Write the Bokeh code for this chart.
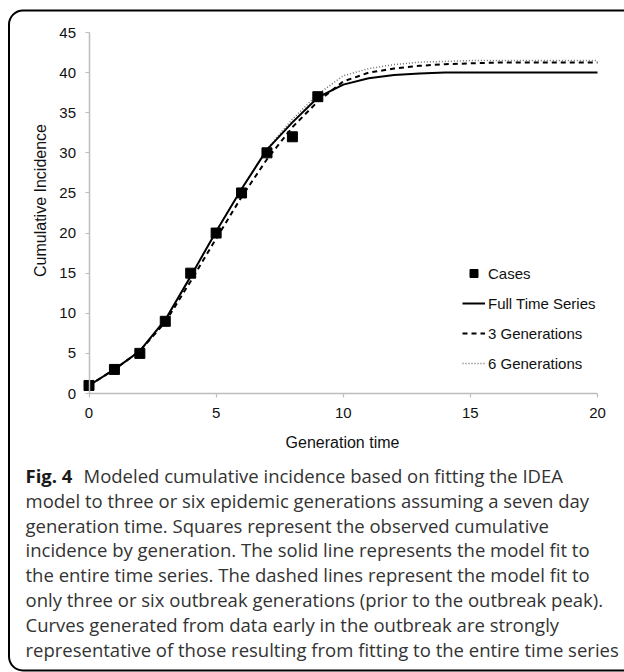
from math import pi
from bokeh.plotting import figure
from bokeh.models import Range1d, Label, BoxAnnotation, Legend, LegendItem, FixedTicker
from bokeh.embed import file_html
from bokeh.resources import INLINE

# ---- data ----
generations = list(range(0, 21))
case_gen = [0, 1, 2, 3, 4, 5, 6, 7, 8, 9]
cases = [1, 3, 5, 9, 15, 20, 25, 30, 32, 37]
full_series = [1.0, 3.0, 5.3, 9.2, 14.6, 20.2, 25.5, 30.4, 33.8, 36.9, 38.5, 39.3, 39.7,
               39.9, 40.0, 40.0, 40.0, 40.0, 40.0, 40.0, 40.0]
three_gen = [1.0, 3.0, 5.3, 8.9, 14.0, 19.3, 24.5, 29.2, 33.2, 36.4, 38.9, 40.0, 40.5,
             40.85, 41.05, 41.15, 41.25, 41.25, 41.25, 41.25, 41.25]
six_gen = [1.0, 3.0, 5.2, 9.1, 14.6, 20.2, 25.5, 30.5, 34.2, 37.3, 39.6, 40.5, 41.0,
           41.3, 41.4, 41.5, 41.5, 41.5, 41.5, 41.5, 41.5]
x_ticks = [0, 5, 10, 15, 20]
y_ticks = [0, 5, 10, 15, 20, 25, 30, 35, 40, 45]
legend_labels = ["Cases", "Full Time Series", "3 Generations", "6 Generations"]
x_title = "Generation time"
y_title = "Cumulative Incidence"
caption_bold = "Fig. 4"
caption_lines = [
    "Modeled cumulative incidence based on fitting the IDEA",
    "model to three or six epidemic generations assuming a seven day",
    "generation time. Squares represent the observed cumulative",
    "incidence by generation. The solid line represents the model fit to",
    "the entire time series. The dashed lines represent the model fit to",
    "only three or six outbreak generations (prior to the outbreak peak).",
    "Curves generated from data early in the outbreak are strongly",
    "representative of those resulting from fitting to the entire time series",
]

AXIS_FONT = "Liberation Sans"
CAP_FONT = "Open Sans"

W, H = 624, 672
# pixel geometry of the plot area inside the canvas
X0_PX, X1_PX = 88.5, 597.0    # canvas x of data x=0 and x=20
Y0_PX, Y1_PX = 393.0, 32.0    # canvas y of data y=0 and y=45
sx = (X1_PX - X0_PX) / 20.0
sy = (Y0_PX - Y1_PX) / 45.0
x_rng = Range1d(-X0_PX / sx, (W - X0_PX) / sx)
y_rng = Range1d(-(H - Y0_PX) / sy, 45 + Y1_PX / sy)

p = figure(width=W, height=H, output_backend="svg", toolbar_location=None,
           x_range=x_rng, y_range=y_rng, min_border=0)
p.outline_line_color = None
p.background_fill_color = "white"
p.border_fill_color = "white"
p.grid.visible = False

for ax, ticks, bounds in ((p.xaxis, x_ticks, (0, 20)), (p.yaxis, y_ticks, (0, 45))):
    ax.fixed_location = 0
    ax.bounds = bounds
    ax.ticker = FixedTicker(ticks=ticks)
    ax.axis_line_color = "#bdbdbd"
    ax.axis_line_width = 1.5
    ax.major_tick_line_color = "#bdbdbd"
    ax.major_tick_line_width = 1.2
    ax.major_tick_out = 4
    ax.major_tick_in = 0
    ax.minor_tick_line_color = None
    ax.major_label_text_font = AXIS_FONT
    ax.major_label_text_font_size = "15px"
    ax.major_label_text_color = "#111111"
p.yaxis.major_label_standoff = 9
p.xaxis.major_label_standoff = 10

r6 = p.line(generations, six_gen, line_color="#707070", line_width=1.5, line_dash="1 2")
r3 = p.line(generations, three_gen, line_color="black", line_width=2, line_dash="5 4")
rf = p.line(generations, full_series, line_color="black", line_width=2)
rc = p.scatter(case_gen, cases, marker="square", size=10, fill_color="black", line_color="black")

legend = Legend(items=[LegendItem(label=legend_labels[0], renderers=[rc]),
                       LegendItem(label=legend_labels[1], renderers=[rf]),
                       LegendItem(label=legend_labels[2], renderers=[r3]),
                       LegendItem(label=legend_labels[3], renderers=[r6])],
                location=(462, H - 373), padding=0, margin=0, spacing=10,
                glyph_width=23, glyph_height=20, label_height=20, label_standoff=3,
                border_line_color=None, background_fill_alpha=0,
                label_text_font=AXIS_FONT, label_text_font_size="15px",
                label_text_color="#111111")
p.add_layout(legend)

p.add_layout(Label(x=40, y=200, x_units="canvas", y_units="canvas", text=y_title,
                   angle=pi / 2, text_align="center", text_baseline="middle",
                   text_font=AXIS_FONT, text_font_size="16px", text_color="#111111"))
p.add_layout(Label(x=342, y=442, x_units="canvas", y_units="canvas", text=x_title,
                   text_align="center", text_baseline="middle",
                   text_font=AXIS_FONT, text_font_size="16px", text_color="#111111"))

# caption
CAP_Y0, CAP_DY = 475, 24.8
p.add_layout(Label(x=25, y=CAP_Y0, x_units="canvas", y_units="canvas", text=caption_bold,
                   text_baseline="alphabetic", text_font=CAP_FONT, text_font_style="bold",
                   text_font_size="18.5px", text_color="#1a1a1a"))
for i, line in enumerate(caption_lines):
    p.add_layout(Label(x=83 if i == 0 else 25, y=CAP_Y0 + CAP_DY * i, x_units="canvas",
                       y_units="canvas", text=line, text_baseline="alphabetic",
                       text_font=CAP_FONT, text_font_size="18.5px", text_color="#333333"))

# rounded panel border
p.add_layout(BoxAnnotation(left=8.5, right=650, top=10, bottom=670,
                           left_units="canvas", right_units="canvas",
                           top_units="canvas", bottom_units="canvas",
                           fill_color=None, fill_alpha=0, line_color="black", line_alpha=1,
                           line_width=2, border_radius=14, level="overlay"))

open("out.html", "w").write(file_html(p, INLINE))
